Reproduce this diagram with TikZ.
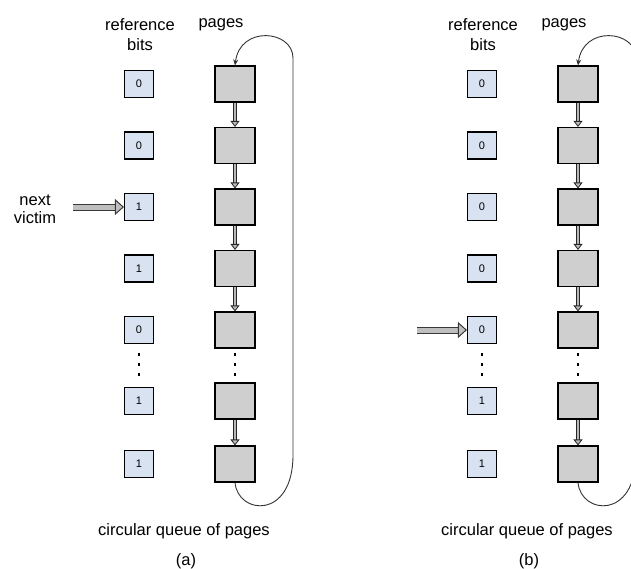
\documentclass[tikz,border=0pt]{standalone}
\usepackage{fontspec}
\setmainfont{Liberation Sans}
\usetikzlibrary{arrows.meta}
\definecolor{bitfill}{HTML}{D8E2F1}
\definecolor{pagefill}{HTML}{CFCFCF}
\tikzset{
  bitbox/.style={draw=black, line width=1.1pt, fill=bitfill, minimum width=29pt, minimum height=27pt, inner sep=0pt, font=\fontsize{11}{12}\selectfont},
  pagebox/.style={draw=black, line width=1.1pt, fill=pagefill, minimum width=40pt, minimum height=36pt, inner sep=0pt},
  lbl/.style={font=\fontsize{16.5}{18}\selectfont, inner sep=0pt},
  link/.style={double, double distance=2pt, line width=0.8pt, draw=gray!30!black, double=gray!55, -{Triangle[length=6pt,width=9pt,fill=gray!55]}},
  victim/.style={double, double distance=5pt, line width=1pt, draw=gray!45!black, double=gray!50, -{Triangle[length=9pt,width=16pt,fill=gray!50]}},
  loop/.style={line width=0.9pt, draw=gray!40!black},
  vdots/.style={rectangle, fill=black, inner sep=0pt, minimum width=2.5pt, minimum height=3pt}
}
\begin{document}
\begin{tikzpicture}[x=1pt,y=-1pt]
\useasboundingbox (0,0) rectangle (631,568);
\clip (0,0) rectangle (631,568);
\foreach \p/\dx/\vals/\tag in {a/0/{0,0,1,1,0,1,1}/(a), b/343/{0,0,0,0,0,1,1}/(b)}{
  \begin{scope}[xshift=\dx pt]
  \node[lbl] (\p refl) at (140,25) {reference};
  \node[lbl] (\p bitsl) at (140,45) {bits};
  \node[lbl] (\p pagesl) at (221,25) {pages};
  \foreach \v [count=\i] in \vals {
    \pgfmathsetmacro{\yy}{\i<6 ? 84+(\i-1)*61.5 : (\i==6 ? 401 : 464)}
    \node[bitbox] (\p\i) at (139,\yy) {\v};
    \node[pagebox] (p\p\i) at (235,\yy) {};
  }
  \foreach \yy [count=\j] in {354,364,374}{
    \node[vdots] (\p dot\j) at (139,\yy) {};
    \node[vdots] (p\p dot\j) at (235,\yy) {};
  }
  \foreach \i/\k in {1/2,2/3,3/4,4/5,6/7}{
    \draw[link] (p\p\i.south) -- (p\p\k.north);
  }
  \coordinate (\p lb) at (293,455);
  \coordinate (\p lt) at (293,58);
  \draw[loop, -{Stealth[length=6pt,width=5pt]}] (p\p7.south) .. controls (238,515) and (293,520) .. (\p lb) -- (\p lt) .. controls (293,30) and (240,25) .. (p\p1.north);
  \node[lbl] (\p cap) at (184,531) {circular queue of pages};
  \node[lbl] (\p tag) at (186,561) {\tag};
  \end{scope}
}
\coordinate (nva) at (73,207);
\draw[victim] (nva) -- (a3.west);
\node[lbl, align=center] (nvtext) at (35,209) {next\\victim};
\coordinate (nvb) at (417,330);
\draw[victim] (nvb) -- (b5.west);
\end{tikzpicture}
\end{document}
